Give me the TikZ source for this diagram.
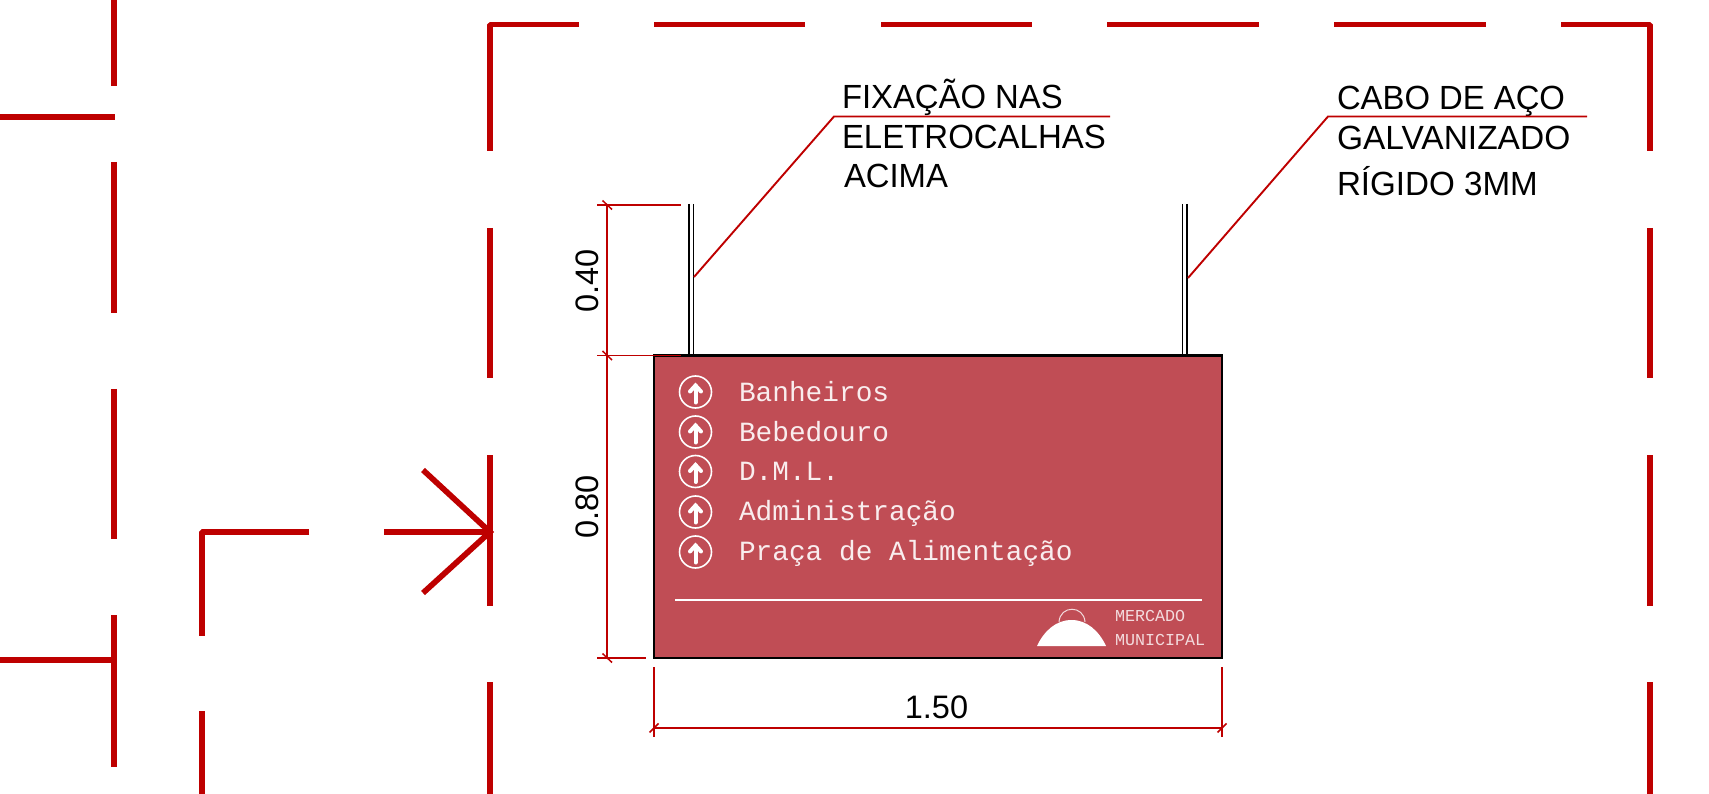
\documentclass[tikz,border=0pt]{standalone}
\usepackage{fontspec}
\usepackage{graphicx}
\setmainfont{Liberation Sans}
\newfontfamily\monof{Liberation Mono}
\definecolor{wallred}{HTML}{BE0000}
\definecolor{signred}{HTML}{C04D55}
\newcommand{\lblfont}{\fontsize{33.5}{36}\selectfont}
\newcommand{\dimfont}{\fontsize{32.5}{36}\selectfont}
\newcommand{\signfont}{\monof\fontsize{27.8}{30}\selectfont}
\newcommand{\logofont}{\monof\fontsize{16.7}{18}\selectfont}
\newcommand{\sqz}[2]{\scalebox{#1}[1]{#2}}
\tikzset{
  wall/.style={draw=wallred,line width=5.7pt},
  dimline/.style={draw=wallred,line width=1.9pt},
  tickline/.style={draw=wallred,line width=1.5pt},
  cable/.style={draw=black,line width=1.5pt},
  lbl/.style={anchor=base west,inner sep=0pt,outer sep=0pt,font=\lblfont,text=black},
  dimtxt/.style={anchor=base,inner sep=0pt,outer sep=0pt,font=\dimfont,text=black},
  signtxt/.style={anchor=base west,inner sep=0pt,outer sep=0pt,font=\signfont,text=white!90!signred},
  logotxt/.style={anchor=base west,inner sep=0pt,outer sep=0pt,font=\logofont,text=white!80!signred},
  ring/.style={circle,draw=white,line width=1.6pt,minimum size=32pt,inner sep=0pt,outer sep=0pt},
  upshaft/.style={draw=white,line width=4pt,line cap=round,line join=miter},
}
\begin{document}
\begin{tikzpicture}[x=1pt,y=-1pt]
\useasboundingbox (0,0) rectangle (1709,794);
% outer dashed room
\draw[wall,line join=bevel] (490,151) -- (490,24.5) -- (579,24.5);
\draw[wall] (654,24.5) -- (805,24.5);
\draw[wall] (881,24.5) -- (1032,24.5);
\draw[wall] (1107,24.5) -- (1259,24.5);
\draw[wall] (1334,24.5) -- (1486,24.5);
\draw[wall,line join=bevel] (1561,24.5) -- (1650,24.5) -- (1650,151);
\foreach \xx in {490,1650}{
  \draw[wall] (\xx,228) -- (\xx,378);
  \draw[wall] (\xx,455) -- (\xx,606);
  \draw[wall] (\xx,682) -- (\xx,794);
}
% left walls
\draw[wall] (114,0) -- (114,86);
\draw[wall] (114,162) -- (114,313);
\draw[wall] (114,389) -- (114,539);
\draw[wall] (114,615) -- (114,767);
\draw[wall] (0,117) -- (115,117);
\draw[wall] (0,660) -- (114,660);
\draw[wall,line join=bevel] (309,532) -- (202,532) -- (202,636);
\draw[wall] (202,711) -- (202,794);
% section arrow
\draw[wall] (384,532) -- (490,532);
\draw[wall,line join=miter] (423,470) -- (490,532) -- (423,593);
% cables
\draw[cable] (689,204) -- (689,355);
\draw[cable] (693.5,204) -- (693.5,355);
\draw[cable] (1182.5,204) -- (1182.5,355);
\draw[cable] (1187,204) -- (1187,355);
% sign
\node[draw=black,fill=signred,line width=2.2pt,outer sep=0pt,minimum width=568pt,minimum height=302.5pt,inner sep=0pt,anchor=north west] (sign) at (654,355.5) {};
\foreach \yy/\nm/\tx/\bl in {392/a/Banheiros/401.5,432/b/Bebedouro/441,471.5/c/D.M.L./480.5,512/d/Administração/520.5,552/e/Praça de Alimentação/560.5}{
  \node[ring] (ring\nm) at (695.5,\yy) {};
  \draw[upshaft] (695.5,\yy+10.5) -- (695.5,\yy-6);
  \draw[upshaft] (690,\yy-0.5) -- (695.5,\yy-6.5) -- (701,\yy-0.5);
  \node[signtxt] (txt\nm) at (739,\bl) {\tx};
}
\coordinate (ruleL) at (675,600);
\coordinate (ruleR) at (1202,600);
\draw[draw=white,line width=2.2pt] (ruleL) -- (ruleR);
% logo
\path[fill=white] (1037,646) .. controls (1044,631) and (1056,620) .. (1071.5,620) .. controls (1087,620) and (1099,631) .. (1106,646) -- cycle;
\draw[draw=white!80!signred,line width=1pt] (1059,622) .. controls (1060,605) and (1084,605) .. (1085,622);
\node[logotxt] (logoA) at (1115,621) {MERCADO};
\node[logotxt] (logoB) at (1115,645) {MUNICIPAL};
% labels
\node[lbl] (fixA) at (842,109) {\sqz{.98}{FIXAÇÃO NAS}};
\node[lbl] (fixB) at (842,149) {\sqz{.984}{ELETROCALHAS}};
\node[lbl] (fixC) at (844,188) {\sqz{.98}{ACIMA}};
\node[lbl] (cabA) at (1337,110) {\sqz{.98}{CABO DE AÇO}};
\node[lbl] (cabB) at (1337,150) {GALVANIZADO};
\node[lbl] (cabC) at (1337,196) {\sqz{.99}{RÍGIDO 3MM}};
% leaders
\coordinate (ldLa) at (694,277);
\coordinate (ldLb) at (834,116.5);
\coordinate (ldLc) at (1110,116.5);
\coordinate (ldRa) at (1188,278);
\coordinate (ldRb) at (1328,116.5);
\coordinate (ldRc) at (1587,116.5);
\draw[dimline] (ldLa) -- (ldLb) -- (ldLc);
\draw[dimline] (ldRa) -- (ldRb) -- (ldRc);
% vertical dimensions
\coordinate (dA) at (607,205);
\coordinate (dB) at (607,355.5);
\coordinate (dC) at (607,658);
\draw[dimline] (dA) -- (dC);
\draw[dimline] (597,205) -- (681,205);
\draw[dimline] (597,355.5) -- (681,355.5);
\draw[dimline] (597,658) -- (646,658);
\foreach \cc in {dA,dB,dC}{
  \draw[tickline] ([shift={(-4.5,-4.5)}]\cc) -- ([shift={(5,4.5)}]\cc);
}
\node[dimtxt,rotate=90] (dimTop) at (598,281) {0.40};
\node[dimtxt,rotate=90] (dimMid) at (598,507) {0.80};
% horizontal dimension
\coordinate (dD) at (654,728);
\coordinate (dE) at (1222,728);
\draw[dimline] (dD) -- (dE);
\draw[dimline] (654,667) -- (654,737);
\draw[dimline] (1222,667) -- (1222,737);
\foreach \cc in {dD,dE}{
  \draw[tickline] ([shift={(-4.5,4.5)}]\cc) -- ([shift={(4.5,-4.5)}]\cc);
}
\node[dimtxt] (dimBot) at (936.5,718) {1.50};
\end{tikzpicture}
\end{document}
